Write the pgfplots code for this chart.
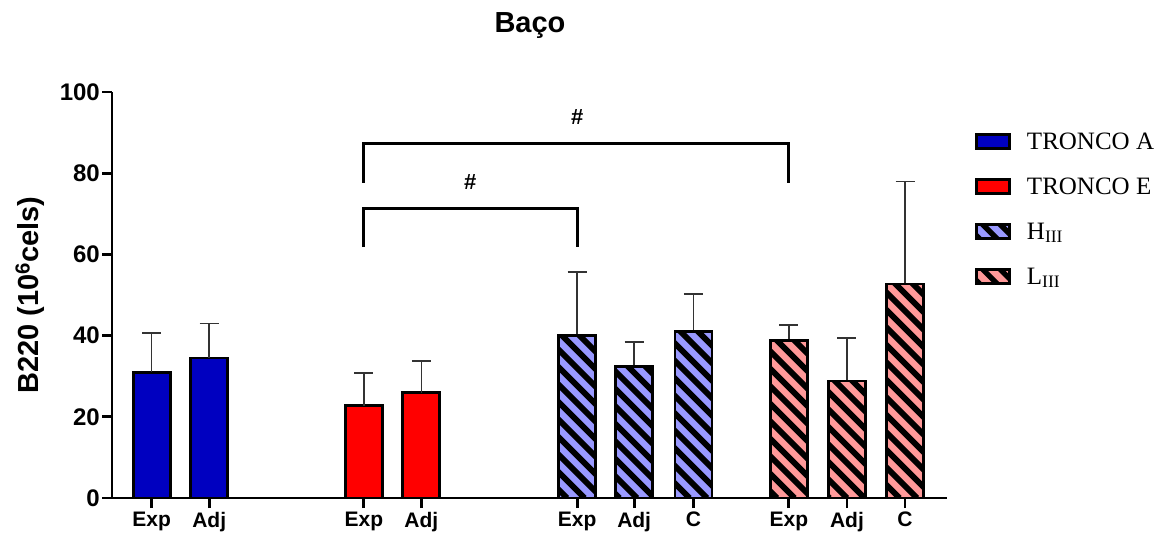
\documentclass[border=0pt]{standalone}
\usepackage{fontspec}
\setmainfont{Liberation Serif}
\setsansfont{Liberation Sans}
\usepackage{pgfplots}
\pgfplotsset{compat=1.18}

\definecolor{tA}{RGB}{0,0,192}
\definecolor{tE}{RGB}{255,0,0}
\definecolor{hIII}{RGB}{153,153,255}
\definecolor{lIII}{RGB}{255,153,153}

\pgfplotstableread{
x y e
0 31.0 9.6
1 34.5 8.5
}\tA
\pgfplotstableread{
x y e
3.69 22.7 8.1
4.69 25.9 7.8
}\tE
\pgfplotstableread{
x y e
7.40 40.0 15.7
8.39 32.3 6.1
9.42 41.1 9.1
}\hI
\pgfplotstableread{
x y e
11.08 38.7 3.9
12.09 28.8 10.6
13.10 52.7 25.3
}\lI

\begin{document}
\begin{tikzpicture}
\path[use as bounding box] (0pt,0pt) rectangle (1175pt,-545pt);
\node[font=\sffamily\bfseries\fontsize{29}{34}\selectfont] at (530pt,-26pt) {Baço};
\begin{axis}[
  at={(112pt,-498pt)}, anchor=south west,
  scale only axis, width=835pt, height=406pt,
  xmin=-0.69, xmax=13.83, ymin=0, ymax=100,
  clip=false,
  axis x line=bottom, axis y line=left,
  axis line style={-, line width=2.8pt},
  tick style={line width=2.8pt, black},
  major tick length=10pt, tick align=outside,
  ytick={0,20,40,60,80,100},
  xtick={0,1,3.69,4.69,7.40,8.39,9.42,11.08,12.09,13.10},
  xticklabels={Exp,Adj,Exp,Adj,Exp,Adj,C,Exp,Adj,C},
  /pgf/number format/assume math mode=true,
  yticklabel style={font=\sffamily\bfseries\fontsize{24}{28}\selectfont, inner sep=2pt},
  xticklabel style={font=\sffamily\bfseries\fontsize{21}{25}\selectfont, inner sep=2pt, yshift=-2pt},
  ylabel={B220 (10\textsuperscript{6}cels)},
  ylabel style={font=\sffamily\bfseries\fontsize{29}{33}\selectfont, at={(axis description cs:-0.098,0.5)}, anchor=center},
  legend style={at={(1.0335,0.905)}, anchor=north west, draw=none, fill=none,
    font=\fontsize{25}{30}\selectfont, row sep=23pt, inner sep=0pt},
  legend cell align=left,
  mylegend/.style={legend image code/.code={\draw[##1] (0pt,-7pt) rectangle (33pt,7pt); \path (47pt,0pt);}},
  hatchlegend/.style={legend image code/.code={%
    \draw[##1] (0pt,-7pt) rectangle (33pt,7pt);
    \begin{scope}
      \clip (0pt,-7pt) rectangle (33pt,7pt);
      \foreach \k in {0,...,3} {\draw[black, line width=5.4pt, fill=none] ({\k*17.5pt+3pt},-7pt) -- ++(-20pt,20pt);}
    \end{scope}
    \draw[black, line width=2.6pt, fill=none] (0pt,-7pt) rectangle (33pt,7pt);
    \path (47pt,0pt);}},
  barstyle/.style={ybar, bar width=37pt, bar shift=0pt, draw=black, line width=2.8pt,
    error bars/y dir=plus, error bars/y explicit,
    error bars/error bar style={line width=1.5pt, black!80},
    error bars/error mark options={rotate=90, mark size=9.5pt, line width=1.5pt, black!80}},
]
\addplot[barstyle, fill=tA, mylegend] table[x=x, y=y, y error=e] {\tA};
\addlegendentry{TRONCO A}
\addplot[barstyle, fill=tE, mylegend] table[x=x, y=y, y error=e] {\tE};
\addlegendentry{TRONCO E}
\addplot[barstyle, fill=hIII, hatchlegend] table[x=x, y=y, y error=e] {\hI};
\addlegendentry{H\textsubscript{III}}
\addplot[barstyle, fill=lIII, hatchlegend] table[x=x, y=y, y error=e] {\lI};
\addlegendentry{L\textsubscript{III}}
\pgfplotsextra{
  \begin{scope}
    \clip (axis cs:7.078,0) rectangle (axis cs:7.722,40.0)
          (axis cs:8.068,0) rectangle (axis cs:8.712,32.3)
          (axis cs:9.098,0) rectangle (axis cs:9.742,41.1)
          (axis cs:10.758,0) rectangle (axis cs:11.402,38.7)
          (axis cs:11.768,0) rectangle (axis cs:12.412,28.8)
          (axis cs:12.778,0) rectangle (axis cs:13.422,52.7);
    \foreach \k in {0,...,76} {
      \draw[black, line width=5.8pt] ([xshift={\k*17.5pt}]axis cs:-0.69,0) -- ++(-450pt,450pt);
    }
  \end{scope}
}
\addplot[ybar, bar width=37pt, bar shift=0pt, draw=black, line width=2.8pt, fill=none, forget plot] table[x=x, y=y] {\hI};
\addplot[ybar, bar width=37pt, bar shift=0pt, draw=black, line width=2.8pt, fill=none, forget plot] table[x=x, y=y] {\lI};
\addplot[line width=2.8pt, black, no marks, sharp plot, forget plot] coordinates {(3.69,61.8) (3.69,71.4) (7.40,71.4) (7.40,61.8)};
\addplot[line width=2.8pt, black, no marks, sharp plot, forget plot] coordinates {(3.69,77.6) (3.69,87.4) (11.08,87.4) (11.08,77.6)};
\node[font=\sffamily\bfseries\fontsize{22}{26}\selectfont] at (axis cs:5.54,77.8) {\#};
\node[font=\sffamily\bfseries\fontsize{22}{26}\selectfont] at (axis cs:7.40,93.8) {\#};
\end{axis}
\end{tikzpicture}
\end{document}
